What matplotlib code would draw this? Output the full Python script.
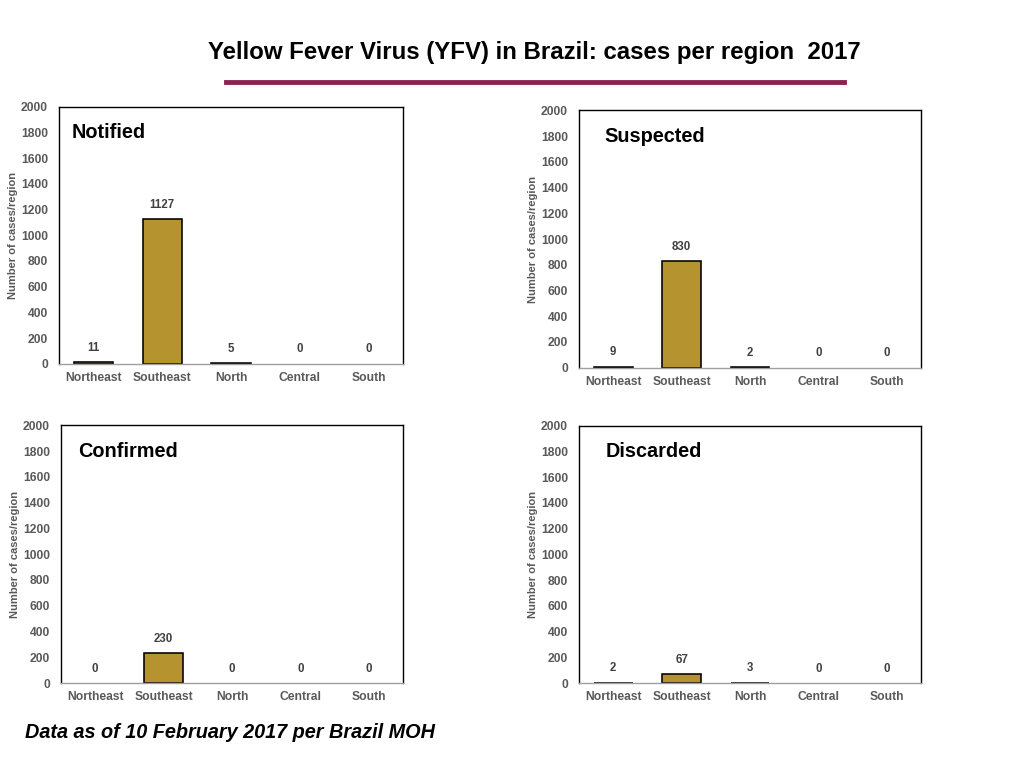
import matplotlib.pyplot as plt

plt.rcParams['font.family'] = ['Liberation Sans', 'DejaVu Sans']

regions = ['Northeast', 'Southeast', 'North', 'Central', 'South']
notified = [11, 1127, 5, 0, 0]
suspected = [9, 830, 2, 0, 0]
confirmed = [0, 230, 0, 0, 0]
discarded = [2, 67, 3, 0, 0]

panels = [
    ('Notified', notified, [59, 106.7, 403, 363.7], 0.038),
    ('Suspected', suspected, [579, 110.3, 921, 367.7], 0.073),
    ('Confirmed', confirmed, [61, 425.3, 403, 683], 0.05),
    ('Discarded', discarded, [579, 425.7, 921, 683], 0.079),
]

W, H = 1024, 768
bar_color = '#B5932F'
tick_grey = '#595959'

fig = plt.figure(figsize=(W / 100, H / 100), dpi=100)

fig.text(534 / W, 1 - 53 / H, 'Yellow Fever Virus (YFV) in Brazil: cases per region  2017',
         ha='center', va='center', fontsize=17.3, fontweight='bold')
fig.add_artist(plt.Line2D([226 / W, 844 / W], [1 - 82 / H, 1 - 82 / H],
                          color='#8B2350', linewidth=3.5))

for name, vals, (x0, y0, x1, y1), tx in panels:
    ax = fig.add_axes([x0 / W, 1 - y1 / H, (x1 - x0) / W, (y1 - y0) / H])
    xs = range(len(regions))
    widths = [1.15 if v > 0 else 0 for v in vals]
    ax.bar(xs, vals, width=0.57, color=bar_color, edgecolor='black', linewidth=widths)
    for x, v in zip(xs, vals):
        ax.annotate(str(v), (x, v), xytext=(0, 6), textcoords='offset points',
                    ha='center', va='bottom', fontsize=8.3, fontweight='bold', color='#404040')
    ax.set_xlim(-0.5, 4.5)
    ax.set_ylim(0, 2000)
    ax.set_yticks(range(0, 2001, 200))
    ax.set_xticks(list(xs))
    ax.set_xticklabels(regions)
    ax.tick_params(length=0, labelsize=8.7, labelcolor=tick_grey, pad=6)
    ax.tick_params(axis='y', pad=8)
    for lab in ax.get_xticklabels() + ax.get_yticklabels():
        lab.set_fontweight('bold')
    for s in ['left', 'top', 'right']:
        ax.spines[s].set_color('black')
        ax.spines[s].set_linewidth(1)
    ax.spines['bottom'].set_color('#A0A0A0')
    ax.spines['bottom'].set_linewidth(1)
    ax.set_ylabel('Number of cases/region', fontsize=8, fontweight='bold', color=tick_grey, labelpad=2)
    ax.text(tx, 0.90, name, transform=ax.transAxes, ha='left', va='center',
            fontsize=14.3, fontweight='bold')

fig.text(25 / W, 1 - 733 / H, 'Data as of 10 February 2017 per Brazil MOH',
         ha='left', va='center', fontsize=14.3, fontweight='bold', fontstyle='italic')

fig.savefig('out.png', dpi=100)
